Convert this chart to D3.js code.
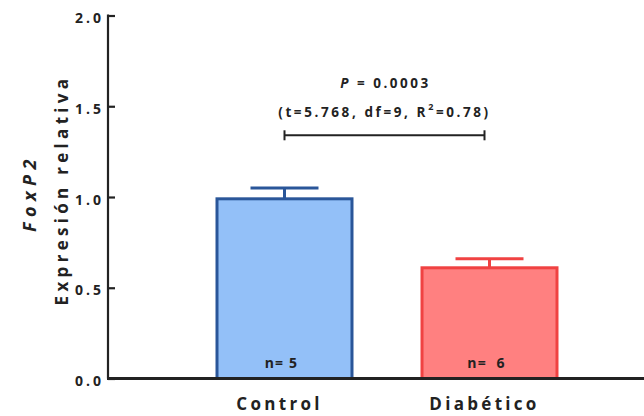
<!DOCTYPE html>
<html><head><meta charset="utf-8">
<script src="https://cdn.jsdelivr.net/npm/d3@7"></script>
<style>body{margin:0;background:#fff}svg{display:block}text{font-family:"Open Sans",sans-serif;font-weight:bold;fill:#222;white-space:pre}</style>
</head><body><svg id="c" width="644" height="416"></svg>
<script>
const categories = ["Control", "Diabético"];
const means = [0.99, 0.61];
const errors = [0.06, 0.05];
const nLabels = ["n= 5", "n=  6"];
const yTicks = [0, 0.5, 1.0, 1.5, 2.0];
const bracketValue = 1.34;
const pText = "0.0003";
const statsText = ["(t=5.768, df=9, R", "2", "=0.78)"];
const fills = ["#93c0f8", "#ff8080"];
const strokes = ["#2a5699", "#f04242"];

const svg = d3.select("#c");
const y = d3.scaleLinear().domain([0, 2]).range([378.5, 15.5]);
const x = d3.scaleBand().domain(categories).range([114.5, 659.5]).paddingInner(0.3415).paddingOuter(0.5);

// bars
const g = svg.append("g");
categories.forEach((c, i) => {
  const x0 = x(c), w = x.bandwidth(), cx = x0 + w / 2;
  const top = y(means[i] + errors[i]);
  g.append("line").attr("x1", cx).attr("x2", cx).attr("y1", y(means[i])).attr("y2", top)
    .attr("stroke", strokes[i]).attr("stroke-width", 3);
  g.append("line").attr("x1", cx - 34).attr("x2", cx + 34).attr("y1", top).attr("y2", top)
    .attr("stroke", strokes[i]).attr("stroke-width", 3);
  g.append("rect").attr("x", x0).attr("y", y(means[i])).attr("width", w).attr("height", y(0) - y(means[i]))
    .attr("fill", fills[i]).attr("stroke", strokes[i]).attr("stroke-width", 3);
  g.append("text").attr("x", cx - 3).attr("y", 368).attr("text-anchor", "middle")
    .attr("font-size", 14).attr("letter-spacing", 1.2).text(nLabels[i]);
});

// y axis
const yAxis = d3.axisLeft(y).tickValues(yTicks).tickFormat(d3.format(".1f")).tickSize(-7).tickPadding(4);
const ya = svg.append("g").attr("transform", "translate(108,0)").call(yAxis);
ya.select(".domain").attr("stroke", "#222").attr("stroke-width", 2.2).attr("d", "M0," + (y(2) - 1) + "V" + y(0));
ya.selectAll(".tick line").attr("stroke", "#222").attr("stroke-width", 2.2);
ya.selectAll(".tick text").attr("font-size", 14).attr("letter-spacing", 3).attr("fill", "#222")
  .attr("font-family", "Open Sans").attr("font-weight", "bold").attr("dy", "0.5em");

// x axis
const xAxis = d3.axisBottom(x).tickSize(0);
const xa = svg.append("g").attr("transform", "translate(0," + y(0) + ")").call(xAxis);
xa.select(".domain").attr("stroke", "#222").attr("stroke-width", 3).attr("d", "M107,0H644");
xa.selectAll(".tick text").attr("font-size", 17).attr("letter-spacing", 3.3).attr("fill", "#222")
  .attr("font-family", "Open Sans").attr("font-weight", "bold")
  .attr("y", 31.5).attr("dy", 0).attr("dx", -5);

// axis titles
svg.append("text").attr("transform", "translate(68,190) rotate(-90)").attr("text-anchor", "middle")
  .attr("font-size", 17).attr("letter-spacing", 4.3).text("Expresión relativa");
svg.append("text").attr("transform", "translate(36,193) rotate(-90)").attr("text-anchor", "middle")
  .attr("font-size", 18).attr("font-style", "italic").attr("letter-spacing", 5.5).text("FoxP2");

// significance
const x1 = x(categories[0]) + x.bandwidth() / 2, x2 = x(categories[1]) + x.bandwidth() / 2 - 5;
const by = y(bracketValue);
svg.append("line").attr("x1", x1).attr("x2", x2).attr("y1", by).attr("y2", by).attr("stroke", "#222").attr("stroke-width", 2);
[x1, x2].forEach(xx => svg.append("line").attr("x1", xx).attr("x2", xx).attr("y1", by - 5).attr("y2", by + 5).attr("stroke", "#222").attr("stroke-width", 2));
const mid = (x1 + x2) / 2;
const t1 = svg.append("text").attr("x", mid + 1).attr("y", 88).attr("text-anchor", "middle").attr("font-size", 13.5).attr("letter-spacing", 2.5);
t1.append("tspan").attr("font-style", "italic").text("P");
t1.append("tspan").text(" = " + pText);
const t2 = svg.append("text").attr("x", mid).attr("y", 117).attr("text-anchor", "middle").attr("font-size", 13.5).attr("letter-spacing", 2.6);
t2.append("tspan").text(statsText[0]);
t2.append("tspan").attr("font-size", 9).attr("dy", -7).text(statsText[1]);
t2.append("tspan").attr("dy", 7).text(statsText[2]);
</script></body></html>
